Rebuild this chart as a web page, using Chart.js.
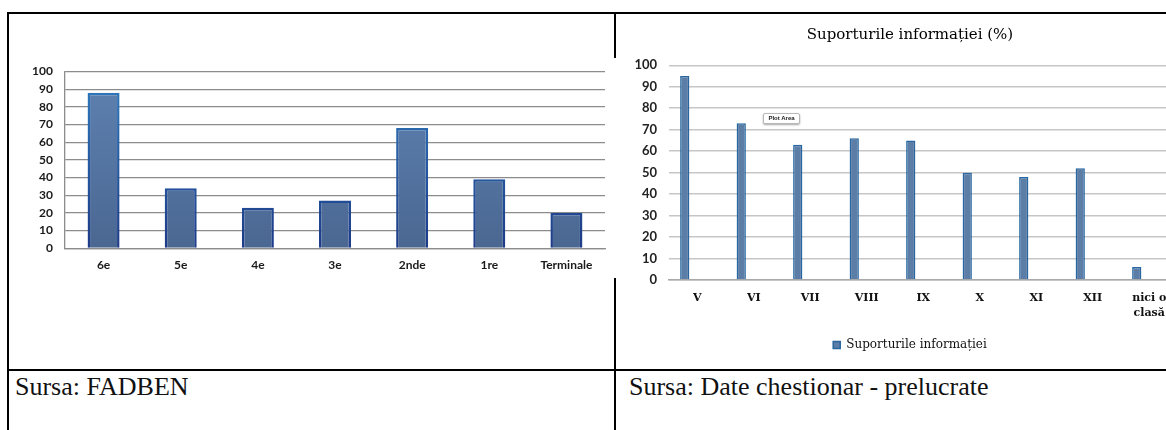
<!DOCTYPE html>
<html>
<head>
<meta charset="utf-8">
<script src="https://cdn.jsdelivr.net/npm/chart.js@4.4.0/dist/chart.umd.min.js"></script>
<style>
    html, body { margin: 0; padding: 0; background: #fff; }
    body { width: 1166px; height: 430px; position: relative; overflow: hidden; }
    .line { position: absolute; background: #000; }
    canvas { position: absolute; }
    .source { position: absolute; top: 374px; font-family: 'Liberation Serif', 'Times New Roman', serif; font-size: 26px; line-height: 1; color: #111; white-space: nowrap; }
    .plot-area-tip {
        position: absolute; left: 763px; top: 113px; width: 35px; height: 9px;
        background: #fff; border: 1px solid #b8b8b8; border-radius: 2px;
        box-shadow: 0 1px 2px rgba(0,0,0,0.35);
        font: bold 6px 'Liberation Sans', Arial, sans-serif; line-height: 9px; text-align: center; color: #222;
    }
</style>
</head>
<body>
    <canvas id="leftChart" width="604" height="276" style="left:8px; top:14px; width:604px; height:276px;"></canvas>
    <canvas id="rightChart" width="588" height="355" style="left:616px; top:13px; width:588px; height:355px;"></canvas>

    <!-- table borders -->
    <div class="line" style="left:7px; top:12px; width:621px; height:2px;"></div>
    <div class="line" style="left:628px; top:12px; width:538px; height:1.5px;"></div>
    <div class="line" style="left:7px; top:12px; width:2px; height:418px;"></div>
    <div class="line" style="left:614px; top:12px; width:2px; height:46px;"></div>
    <div class="line" style="left:614px; top:278px; width:2px; height:152px;"></div>
    <div class="line" style="left:7px; top:369px; width:1159px; height:2px;"></div>

    <div class="plot-area-tip">Plot Area</div>

    <div class="source" style="left:15px;">Sursa: FADBEN</div>
    <div class="source" style="left:629px;">Sursa: Date chestionar - prelucrate</div>

<script>
// stanga: FADBEN
const leftCategories = ['6e', '5e', '4e', '3e', '2nde', '1re', 'Terminale'];
const leftValues = [88, 34, 23, 27, 68, 39, 20];

// dreapta: suporturile informatiei (%)
const rightTitle = 'Suporturile informației (%)';
const rightSeriesName = 'Suporturile informației';
const rightCategories = ['V', 'VI', 'VII', 'VIII', 'IX', 'X', 'XI', 'XII', ['nici o', 'clasă']];
const rightValues = [95, 73, 63, 66, 65, 50, 48, 52, 6];
// a doua serie goala din graficul original (de aceea barele stau in stanga categoriei)
const emptySeries = [null, null, null, null, null, null, null, null, null];

const yMin = 0, yMax = 100, yStep = 10;

function vGradient(c, top, bottom, fallback) {
    const { ctx, chartArea } = c.chart;
    if (!chartArea) return fallback;
    const g = ctx.createLinearGradient(0, chartArea.top, 0, chartArea.bottom);
    g.addColorStop(0, top);
    g.addColorStop(1, bottom);
    return g;
}

const leftFont = { family: 'Lato', size: 12, weight: 'bold', lineHeight: 1.2 };

new Chart(document.getElementById('leftChart').getContext('2d'), {
    type: 'bar',
    data: {
        labels: leftCategories,
        datasets: [{
            data: leftValues,
            backgroundColor: c => vGradient(c, '#5f82b2', '#4a6791', '#577aa8'),
            borderColor: c => vGradient(c, '#2f7dbf', '#1d3a88', '#2d6fae'),
            borderWidth: 2.5,
            categoryPercentage: 1,
            barPercentage: 0.415
        }]
    },
    options: {
        responsive: false,
        animation: false,
        layout: { padding: { left: 0, right: 7, top: 57.5, bottom: 11.7 } },
        plugins: { legend: { display: false }, tooltip: { enabled: false } },
        scales: {
            x: {
                grid: { display: false, drawTicks: false },
                border: { display: true, color: '#8c8c8c', width: 1.3 },
                ticks: { font: leftFont, color: '#1a1a1a', padding: 9.5, maxRotation: 0, autoSkip: false },
                afterFit: s => { s.height = 30; }
            },
            y: {
                min: yMin, max: yMax,
                ticks: { stepSize: yStep, font: leftFont, color: '#1a1a1a', padding: 12 },
                grid: { color: '#8c8c8c', lineWidth: 1.3, drawTicks: false },
                border: { display: true, color: '#8c8c8c', width: 1.3 },
                afterFit: s => { s.width = 57; }
            }
        }
    }
});

const serifFont = { family: 'DejaVu Serif', size: 11, weight: 'bold', lineHeight: 1.42 };

new Chart(document.getElementById('rightChart').getContext('2d'), {
    type: 'bar',
    data: {
        labels: rightCategories,
        datasets: [{
            label: rightSeriesName,
            data: rightValues,
            backgroundColor: '#5b7da6',
            borderColor: '#2766a0',
            borderWidth: 1.5,
            categoryPercentage: 0.885,
            barPercentage: 0.37
        }, {
            label: '',
            data: emptySeries,
            categoryPercentage: 0.885,
            barPercentage: 0.37
        }]
    },
    options: {
        responsive: false,
        animation: false,
        layout: { padding: { left: 0, right: 0, top: 0, bottom: 7 } },
        plugins: {
            title: {
                display: true,
                text: rightTitle,
                font: { family: 'DejaVu Serif', size: 15, weight: 'normal', lineHeight: 1.2 },
                color: '#000',
                padding: { top: 13, bottom: 21.3 }
            },
            legend: {
                position: 'bottom',
                labels: {
                    boxWidth: 7, boxHeight: 7, padding: 10,
                    font: { family: 'DejaVu Serif', size: 12 },
                    color: '#111',
                    filter: item => item.datasetIndex === 0
                }
            },
            tooltip: { enabled: false }
        },
        scales: {
            x: {
                grid: { display: false, drawTicks: false },
                border: { display: true, color: '#a9a9a9', width: 1.5 },
                ticks: { font: serifFont, color: '#111', padding: 10, maxRotation: 0, autoSkip: false },
                afterFit: s => { s.height = 49; }
            },
            y: {
                min: yMin, max: yMax,
                ticks: { stepSize: yStep, font: { family: 'Lato', size: 13, weight: 'bold' }, color: '#222', padding: 12 },
                grid: { color: '#c6c6c6', lineWidth: 1.5, drawTicks: false },
                border: { display: false },
                afterFit: s => { s.width = 53; }
            },
            // axa goala in dreapta, doar ca titlul si legenda sa fie centrate ca in original
            yRight: {
                position: 'right',
                ticks: { display: false },
                grid: { display: false, drawTicks: false },
                border: { display: false },
                afterFit: s => { s.width = 26.5; }
            }
        }
    }
});
</script>
</body>
</html>
